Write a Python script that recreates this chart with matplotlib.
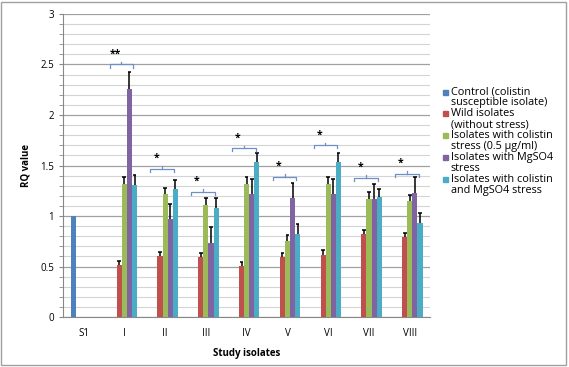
import numpy as np
import matplotlib
matplotlib.use("Agg")
import matplotlib.pyplot as plt
from matplotlib.patches import Rectangle

plt.rcParams["font.family"] = ["Open Sans", "DejaVu Sans"]

nan = np.nan
cats = ["S1", "I", "II", "III", "IV", "V", "VI", "VII", "VIII"]
control = [1.0, nan, nan, nan, nan, nan, nan, nan, nan]
wild = [nan, 0.52, 0.60, 0.59, 0.51, 0.59, 0.61, 0.82, 0.79]
wild_err = [0, 0.04, 0.04, 0.04, 0.04, 0.04, 0.05, 0.04, 0.04]
colistin = [nan, 1.32, 1.22, 1.11, 1.32, 0.75, 1.32, 1.17, 1.15]
colistin_err = [0, 0.07, 0.06, 0.07, 0.07, 0.06, 0.07, 0.07, 0.06]
mgso4 = [nan, 2.26, 0.97, 0.73, 1.22, 1.18, 1.22, 1.17, 1.23]
mgso4_err = [0, 0.17, 0.15, 0.16, 0.15, 0.15, 0.15, 0.15, 0.16]
combo = [nan, 1.31, 1.27, 1.08, 1.53, 0.82, 1.53, 1.19, 0.93]
combo_err = [0, 0.10, 0.09, 0.10, 0.09, 0.10, 0.09, 0.08, 0.10]
sig = ["", "**", "*", "*", "*", "*", "*", "*", "*"]
sig_y = [nan, 2.50, 1.47, 1.24, 1.67, 1.39, 1.70, 1.38, 1.42]

labels = ["Control (colistin\nsusceptible isolate)",
          "Wild isolates\n(without stress)",
          "Isolates with colistin\nstress (0.5 \u00b5g/ml)",
          "Isolates with MgSO4\nstress",
          "Isolates with colistin\nand MgSO4 stress"]
colors = ["#4F81BD", "#C0504D", "#9BBB59", "#8064A2", "#4BACC6"]

W, H = 569, 367
fig = plt.figure(figsize=(W / 100, H / 100), dpi=100)
ax = fig.add_axes([0.111, 0.136, 0.645, 0.826])

x = np.arange(len(cats))
w = 0.125
series = [(control, None), (wild, wild_err), (colistin, colistin_err),
          (mgso4, mgso4_err), (combo, combo_err)]
for i, (vals, err) in enumerate(series):
    pos = x + (i - 2) * w
    ax.bar(pos, vals, w, color=colors[i], zorder=3)
    if err is not None:
        v = np.array(vals)
        top = v + np.array(err)
        ok = ~np.isnan(v)
        # upper error only: stem + top cap (Excel "plus" style)
        ax.vlines(pos[ok], v[ok], top[ok], color="black", lw=1.1, zorder=4)
        ax.hlines(top[ok], pos[ok] - 0.045, pos[ok] + 0.045, color="black",
                  lw=1.1, zorder=4)

# significance brackets
bc = "#6F8FC8"
for xi, s, y in zip(x, sig, sig_y):
    if not s:
        continue
    x0, x1 = xi - 0.36, xi + 0.22
    ax.plot([x0, x0, x1, x1], [y - 0.03, y, y, y - 0.03], color=bc, lw=0.9, zorder=5)
    xm = (x0 + x1) / 2
    ax.plot([xm, xm], [y, y + 0.025], color=bc, lw=0.9, zorder=5)
    ax.text(xm - 0.15, y + 0.05, s, ha="center", va="bottom", fontsize=7.5,
            fontweight="bold", zorder=5)

ax.set_xlim(-0.5, len(cats) - 0.5)
ax.set_ylim(0, 3)
ax.set_yticks(np.arange(0, 3.01, 0.5))
ax.set_yticklabels(["0", "0.5", "1", "1.5", "2", "2.5", "3"])
ax.set_yticks(np.arange(0, 3.01, 0.1), minor=True)
ax.grid(axis="y", which="major", color="#A0A0A0", lw=0.9, zorder=0)
ax.grid(axis="y", which="minor", color="#D4D4D4", lw=0.8, zorder=0)
ax.set_xticks(x)
ax.set_xticklabels(cats)
ax.tick_params(axis="x", length=0, labelsize=7, pad=8)
ax.tick_params(axis="y", which="both", labelsize=7, length=3, color="#888888")
for sp in ["top", "right"]:
    ax.spines[sp].set_visible(False)
for sp in ["left", "bottom"]:
    ax.spines[sp].set_color("#888888")
ax.set_axisbelow(True)

ax.set_ylabel("RQ value", fontsize=7, fontweight="bold", labelpad=6)
ax.set_xlabel("Study isolates", fontsize=7, fontweight="bold", labelpad=6)

# legend drawn by hand so the square sits beside the first text line (Excel look)
for i, lab in enumerate(labels):
    yc = 92 + 21.8 * i  # pixel row of first line
    fig.patches.append(Rectangle((443 / W, 1 - (yc + 2.5) / H), 5 / W, 5 / H,
                                 transform=fig.transFigure, color=colors[i]))
    fig.text(451 / W, 1 - (yc - 5.5) / H, lab, fontsize=7.8, va="top", ha="left",
             linespacing=1.0)

fig.patches.append(Rectangle((0.002, 0.005), 0.993, 0.99, transform=fig.transFigure,
                             fill=False, edgecolor="#A0A0A0", lw=1))

fig.savefig("out.png", dpi=100)
